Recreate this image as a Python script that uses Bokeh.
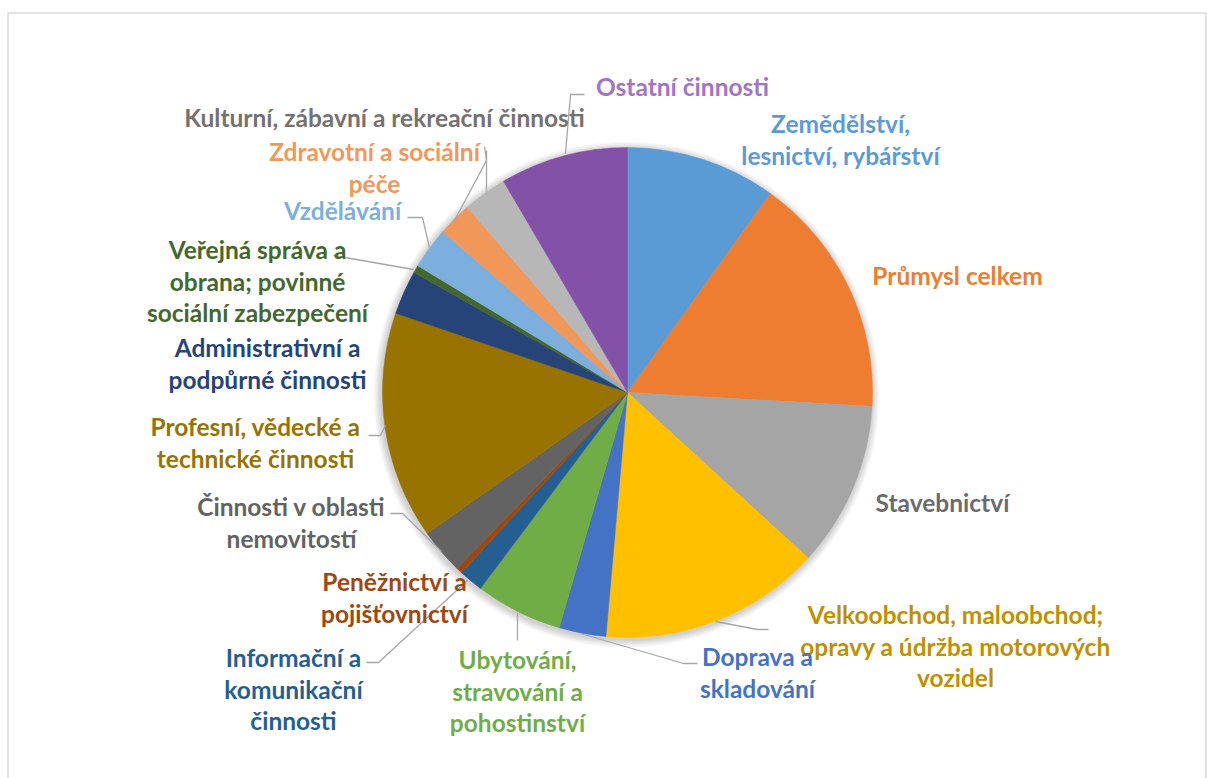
import numpy as np
from bokeh.plotting import figure
from bokeh.models import Range1d, ColumnDataSource
from bokeh.core.properties import value
from bokeh.embed import file_html
from bokeh.resources import INLINE

# ---------------- data ----------------
categories = [
    "Zemědělství, lesnictví, rybářství",
    "Průmysl celkem",
    "Stavebnictví",
    "Velkoobchod, maloobchod; opravy a údržba motorových vozidel",
    "Doprava a skladování",
    "Ubytování, stravování a pohostinství",
    "Informační a komunikační činnosti",
    "Peněžnictví a pojišťovnictví",
    "Činnosti v oblasti nemovitostí",
    "Profesní, vědecké a technické činnosti",
    "Administrativní a podpůrné činnosti",
    "Veřejná správa a obrana; povinné sociální zabezpečení",
    "Vzdělávání",
    "Zdravotní a sociální péče",
    "Kulturní, zábavní a rekreační činnosti",
    "Ostatní činnosti",
]
shares = [9.9, 16.0, 10.9, 14.6, 3.1, 5.75, 1.6, 0.4, 3.0, 15.0, 2.9, 0.5, 2.75, 2.25, 2.9, 8.45]

label_lines = [
    ["Zemědělství,", "lesnictví, rybářství"],
    ["Průmysl celkem"],
    ["Stavebnictví"],
    ["Velkoobchod, maloobchod;", "opravy a údržba motorových", "vozidel"],
    ["Doprava a", "skladování"],
    ["Ubytování,", "stravování a", "pohostinství"],
    ["Informační a", "komunikační", "činnosti"],
    ["Peněžnictví a", "pojišťovnictví"],
    ["Činnosti v oblasti", "nemovitostí"],
    ["Profesní, vědecké a", "technické činnosti"],
    ["Administrativní a", "podpůrné činnosti"],
    ["Veřejná správa a", "obrana; povinné", "sociální zabezpečení"],
    ["Vzdělávání"],
    ["Zdravotní a sociální", "péče"],
    ["Kulturní, zábavní a rekreační činnosti"],
    ["Ostatní činnosti"],
]

# ---------------- style ----------------
slice_colors = ["#5B9BD5", "#ED7D31", "#A5A5A5", "#FFC000", "#4472C4", "#70AD47",
                "#255E91", "#9E480E", "#636363", "#997300", "#264478", "#43682B",
                "#7CAFDD", "#F1975A", "#B7B7B7", "#8451A8"]
text_colors = ["#5B9BD5", "#ED7D31", "#6B6B6B", "#BF9000", "#4472C4", "#70AD47",
               "#255E91", "#9E480E", "#636363", "#997300", "#264478", "#43682B",
               "#7CAFDD", "#F1975A", "#767171", "#A074C6"]

# label centre x and first-line y (page pixels)
label_pos = [(840, 123), (957, 275), (942, 502), (955, 614), (757, 656), (517, 659),
             (293, 657), (394, 581), (291, 506), (255, 426), (267, 347), (257, 249),
             (342, 210), (374, 151), (384, 117), (682, 86)]
line_gap = 31.5

# leader polylines (page pixels), None where no leader
leaders = [None, None, None,
           [(715, 621), (757, 629), (768, 629)],
           [(580, 633), (683, 663), (697, 663)],
           [(517, 612), (517, 640)],
           [(467, 580), (378, 662), (366, 662)],
           None,
           [(441, 551), (402, 513), (390, 513)],
           [(385, 425), (380, 435), (368, 435)],
           None,
           [(413, 269), (333, 255)],
           [(429, 247), (422, 217), (407, 217)],
           [(454, 220), (486, 160), (484, 146)],
           [(486, 192), (486, 150)],
           [(565, 153), (570, 94), (584, 94)]]

W, H = 1207, 778


def px(x):
    return x


def py(y):
    return H - y


p = figure(width=W, height=H, output_backend="svg", toolbar_location=None,
           x_range=Range1d(0, W), y_range=Range1d(0, H),
           min_border=0, min_border_left=0, min_border_right=0,
           min_border_top=0, min_border_bottom=0)
p.axis.visible = False
p.grid.visible = False
p.outline_line_color = None
p.background_fill_color = "white"
p.border_fill_color = "white"

# chart frame border
p.line(x=[px(7.5), px(7.5), px(1205.5), px(1205.5)], y=[-10, py(12.5), py(12.5), -10],
       line_color="#D9D9D9", line_width=1.5)

cx, cy, R = px(627), py(392), 245

# soft shadow
for k in range(8):
    p.circle(x=cx - 1, y=cy - 2, radius=R + 1 + k, fill_color="#000000",
             fill_alpha=0.022, line_color=None)

frac = np.array(shares) / np.sum(shares)
cum = np.concatenate([[0.0], np.cumsum(frac)])
start = np.pi / 2 - cum[:-1] * 2 * np.pi
end = np.pi / 2 - cum[1:] * 2 * np.pi
src = ColumnDataSource(dict(start=start, end=end, color=slice_colors, cat=categories))
p.wedge(x=cx, y=cy, radius=R, start_angle="start", end_angle="end", direction="clock",
        fill_color="color", line_color="color", line_width=0.5, source=src)

# leaders
for ld in leaders:
    if ld is None:
        continue
    p.line(x=[px(a) for a, b in ld], y=[py(b) for a, b in ld], line_color="#A6A6A6", line_width=1.3)

# labels
tx, ty, tt, tc = [], [], [], []
for lines, (lx, ly), col in zip(label_lines, label_pos, text_colors):
    for i, s in enumerate(lines):
        tx.append(px(lx))
        ty.append(py(ly + i * line_gap))
        tt.append(s)
        tc.append(col)
p.text(x=tx, y=ty, text=tt, text_color=tc, text_align="center", text_baseline="middle",
       text_font=value("Lato"), text_font_style="bold", text_font_size="24.5px")

open("out.html", "w").write(file_html(p, INLINE))
